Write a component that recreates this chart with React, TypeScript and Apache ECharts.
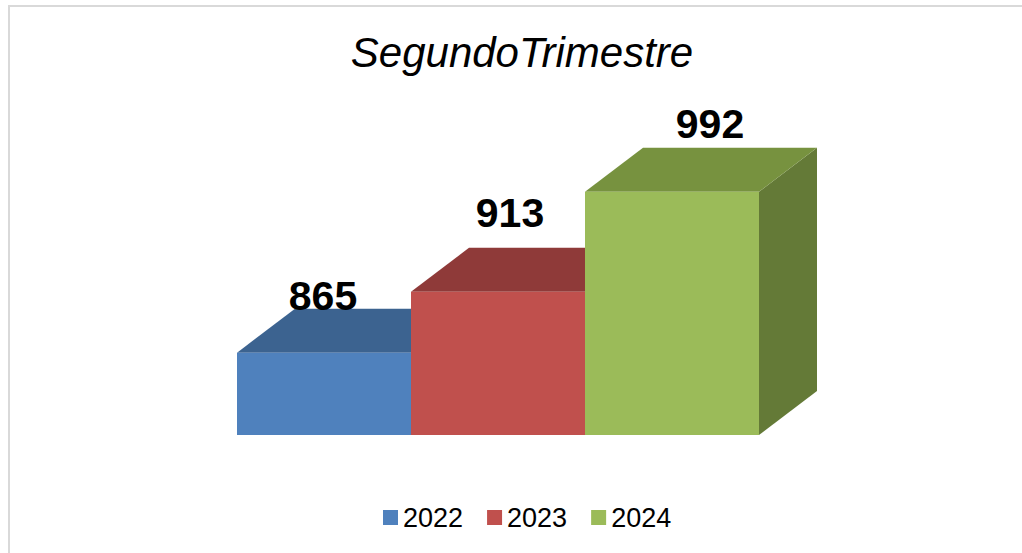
import React, { useEffect, useRef } from "react";
import * as echarts from "echarts";

const titleText = "SegundoTrimestre";
const years = ["2022", "2023", "2024"];
const values = [865, 913, 992];
const frontColors = ["#4F81BD", "#C0504D", "#9BBB59"];
const topColors = ["#3C6390", "#8F3A39", "#77923F"];
const sideColors = ["#34577F", "#7E3331", "#647A37"];
const labelDx = [-1, 12, 38];
const labelDy = [-57, -79, -68];
const yMin = 800;
const yMax = 1000;

export default function App() {
  const ref = useRef<HTMLDivElement>(null);
  useEffect(() => {
    if (!ref.current) return;
    const chart = echarts.init(ref.current, null, { renderer: "svg" });
    const depthX = 58;
    const depthY = 44;
    const series = years.map((y, i) => ({
      type: "custom",
      name: y,
      itemStyle: { color: frontColors[i] },
      clip: false,
      data: [[i, values[i]]],
      renderItem: (params: any, api: any) => {
        const idx = api.value(0);
        const val = api.value(1);
        const p = api.coord([idx, val]);
        const b = api.coord([idx, yMin]);
        const bw = api.size([1, 0])[0];
        const l = p[0] - bw / 2;
        const r = p[0] + bw / 2;
        const t = p[1];
        const bo = b[1];
        return {
          type: "group",
          children: [
            {
              type: "polygon",
              shape: { points: [[r, t], [r + depthX, t - depthY], [r + depthX, bo - depthY], [r, bo]] },
              style: { fill: sideColors[i] },
            },
            {
              type: "polygon",
              shape: { points: [[l, t], [r, t], [r + depthX, t - depthY], [l + depthX, t - depthY]] },
              style: { fill: topColors[i] },
            },
            {
              type: "rect",
              shape: { x: l, y: t, width: bw, height: bo - t },
              style: { fill: frontColors[i] },
            },
            {
              type: "text",
              x: p[0] + labelDx[i],
              y: t + labelDy[i],
              style: {
                text: String(val),
                fill: "#000",
                font: "bold 41px 'Liberation Sans', Arial, sans-serif",
                align: "center",
                verticalAlign: "middle",
              },
            },
          ],
        };
      },
    }));
    chart.setOption({
      animation: false,
      backgroundColor: "#fff",
      grid: { left: 237, width: 522, top: 181.6, bottom: 118 },
      xAxis: { type: "category", data: years, show: false },
      yAxis: { type: "value", min: yMin, max: yMax, show: false },
      legend: {
        data: years,
        left: 378,
        top: 499,
        icon: "rect",
        itemWidth: 15,
        itemHeight: 15,
        itemGap: 24,
        textStyle: { fontSize: 27, color: "#000", fontFamily: "'Liberation Sans', Arial, sans-serif" },
      },
      graphic: [
        {
          type: "rect",
          shape: { x: 9, y: 6, width: 1200, height: 700 },
          style: { fill: "none", stroke: "#D9D9D9", lineWidth: 2 },
          silent: true,
        },
        {
          type: "text",
          x: 522,
          y: 52,
          style: {
            text: titleText,
            fill: "#000",
            font: "italic 42px 'Liberation Sans', Arial, sans-serif",
            align: "center",
            verticalAlign: "middle",
          },
        },
      ],
      series,
    });
    return () => chart.dispose();
  }, []);
  return <div ref={ref} style={{ position: "fixed", left: 0, top: 0, width: 1022, height: 553 }} />;
}
